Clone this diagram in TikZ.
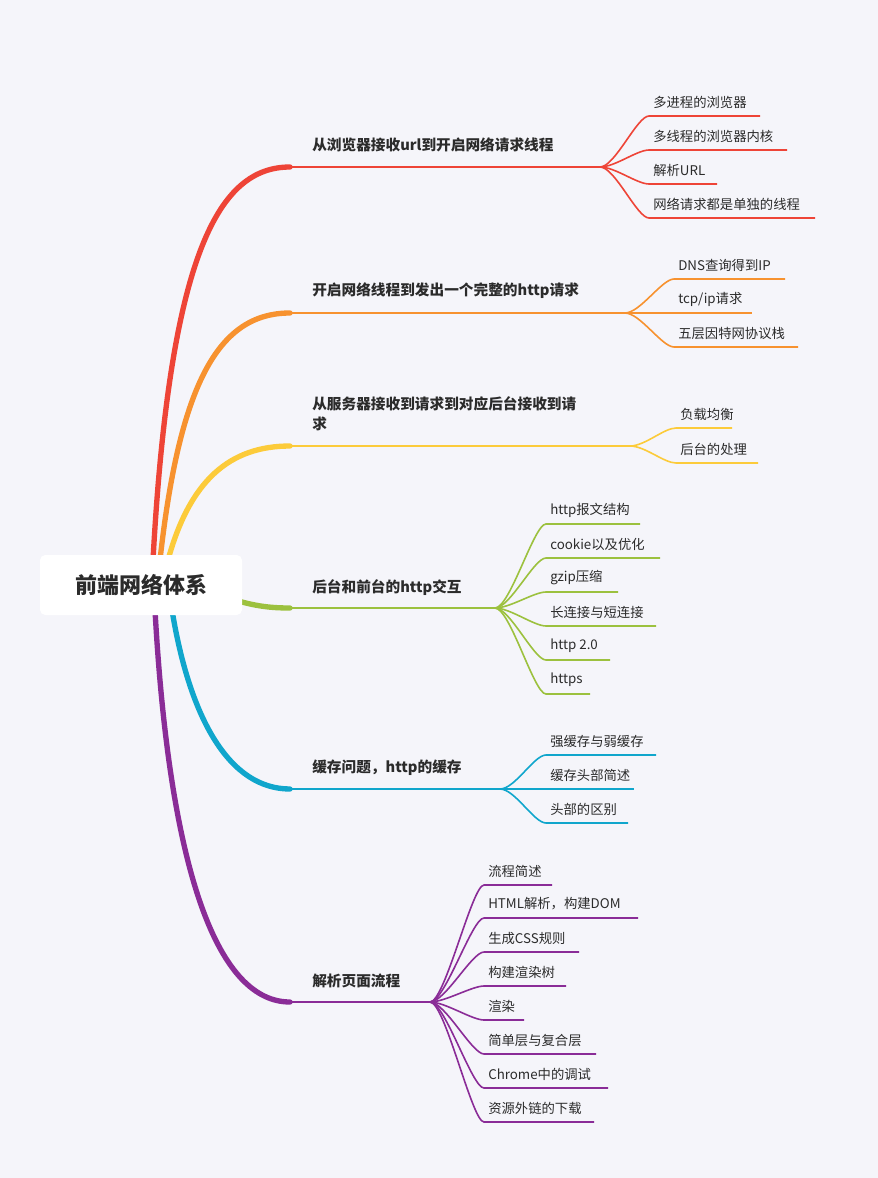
\documentclass[tikz,border=0pt]{standalone}
\usepackage{fontspec}
\setmainfont{Noto Sans CJK SC}
\definecolor{bg}{HTML}{F5F5FA}
\definecolor{cA}{HTML}{EE4437}
\definecolor{cB}{HTML}{F7922F}
\definecolor{cC}{HTML}{FCCB3A}
\definecolor{cD}{HTML}{9CC13E}
\definecolor{cE}{HTML}{10A6CC}
\definecolor{cF}{HTML}{8A2C97}
\definecolor{txt}{HTML}{2B2B2B}
\begin{document}
\begin{tikzpicture}[x=0.75pt,y=-0.75pt,
  leaf/.style={anchor=west,inner sep=0pt,font=\fontsize{10}{12}\selectfont,text=txt},
  br/.style={anchor=west,inner sep=0pt,font=\fontsize{11}{15}\selectfont\bfseries,text=txt,align=left},
  ul/.style={line width=1.2pt},
  trunk/.style={line width=4pt,line cap=round}]
\fill[bg] (0,0) rectangle (878,1178);
\useasboundingbox (0,0) rectangle (878,1178);
% trunks
\draw[trunk,cA] (153,560) .. controls (170,250) and (220,167) .. (290,167);
\draw[trunk,cB] (160,560) .. controls (180,380) and (220,313) .. (290,313);
\draw[trunk,cC] (168,560) .. controls (190,480) and (230,446) .. (290,446);
\draw[trunk,cD] (235,600) .. controls (255,606) and (270,608) .. (290,608);
\draw[trunk,cE] (172,610) .. controls (190,720) and (230,789) .. (290,789);
\draw[trunk,cF] (155,610) .. controls (170,880) and (220,1002) .. (290,1002);
% root
\node[fill=white,rounded corners=4pt,minimum width=202*0.75pt,minimum height=60*0.75pt,font=\fontsize{16.5}{20}\selectfont\bfseries,text=txt] (root) at (141,585) {前端网络体系};
% branch text & underlines
\newcommand\branch[7]{% name color textY text ulY ulEnd
  \node[br] (#1) at (312,#3) {#4};
  \coordinate (#1s) at (290,#5); \coordinate (#1e) at (#6,#5);
  \draw[ul,#2] (#1s) -- (#1e);}
\newcommand\leafitem[7]{% parent color x y text ulEnd name
  \node[leaf] (#7) at (#3,#4) {#5};
  \coordinate (#7a) at (#3-4,#4+14); \coordinate (#7b) at (#6,#4+14);
  \draw[ul,#2] (#1e) .. controls ++(15,0) and ($(#7a)+(-12,0)$) .. (#7a) -- (#7b);}
\usetikzlibrary{calc}
\branch{b1}{cA}{145}{从浏览器接收url到开启网络请求线程}{167}{600}{}
\leafitem{b1}{cA}{653}{102}{多进程的浏览器}{760}{l11}
\leafitem{b1}{cA}{653}{136}{多线程的浏览器内核}{787}{l12}
\leafitem{b1}{cA}{653}{170}{解析URL}{717}{l13}
\leafitem{b1}{cA}{653}{204}{网络请求都是单独的线程}{815}{l14}
\branch{b2}{cB}{291}{开启网络线程到发出一个完整的http请求}{313}{625}{}
\leafitem{b2}{cB}{678}{265}{DNS查询得到IP}{785}{l21}
\leafitem{b2}{cB}{678}{299}{tcp/ip请求}{752}{l22}
\leafitem{b2}{cB}{678}{333}{五层因特网协议栈}{798}{l23}
\branch{b3}{cC}{414}{从服务器接收到请求到对应后台接收到请\\求}{446}{630}{}
\leafitem{b3}{cC}{680}{414}{负载均衡}{732}{l31}
\leafitem{b3}{cC}{680}{449}{后台的处理}{758}{l32}
\branch{b4}{cD}{588}{后台和前台的http交互}{608}{495}{}
\leafitem{b4}{cD}{550}{510}{http报文结构}{640}{l41}
\leafitem{b4}{cD}{550}{544}{cookie以及优化}{660}{l42}
\leafitem{b4}{cD}{550}{578}{gzip压缩}{618}{l43}
\leafitem{b4}{cD}{550}{612}{长连接与短连接}{656}{l44}
\leafitem{b4}{cD}{550}{646}{http 2.0}{610}{l45}
\leafitem{b4}{cD}{550}{680}{https}{590}{l46}
\branch{b5}{cE}{768}{缓存问题，http的缓存}{789}{500}{}
\leafitem{b5}{cE}{550}{741}{强缓存与弱缓存}{656}{l51}
\leafitem{b5}{cE}{550}{775}{缓存头部简述}{634}{l52}
\leafitem{b5}{cE}{550}{809}{头部的区别}{628}{l53}
\branch{b6}{cF}{981}{解析页面流程}{1002}{430}{}
\leafitem{b6}{cF}{488}{871}{流程简述}{552}{l61}
\leafitem{b6}{cF}{488}{904}{HTML解析，构建DOM}{638}{l62}
\leafitem{b6}{cF}{488}{938}{生成CSS规则}{579}{l63}
\leafitem{b6}{cF}{488}{972}{构建渲染树}{566}{l64}
\leafitem{b6}{cF}{488}{1006}{渲染}{524}{l65}
\leafitem{b6}{cF}{488}{1040}{简单层与复合层}{596}{l66}
\leafitem{b6}{cF}{488}{1074}{Chrome中的调试}{608}{l67}
\leafitem{b6}{cF}{488}{1108}{资源外链的下载}{594}{l68}
\end{tikzpicture}
\end{document}
